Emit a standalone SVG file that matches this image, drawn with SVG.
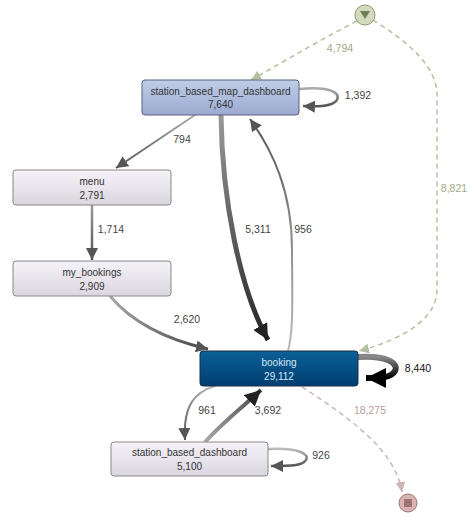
<svg xmlns="http://www.w3.org/2000/svg" width="470" height="516" viewBox="0 0 470 516">
<defs>
<style>
.nt{font-family:"Liberation Sans",Arial,sans-serif;font-size:10px;fill:#333;text-anchor:middle}
.bt{fill:#d6e6f4}
.el{font-family:"Liberation Sans",Arial,sans-serif;font-size:10.5px;fill:#444;text-anchor:middle}
.gl{fill:#9caa84}
.pl{fill:#b8a0a0}
.bl{fill:#111}
.e{fill:none;stroke-linecap:butt}
.dg{fill:none;stroke:#b4c0a0;stroke-width:1.5;stroke-dasharray:5,4}
.dp{fill:none;stroke:#cdb5b5;stroke-width:1.5;stroke-dasharray:5,4}
</style>
<linearGradient id="gBlue" x1="0" y1="0" x2="0" y2="1"><stop offset="0" stop-color="#bfcde8"/><stop offset="1" stop-color="#9babd0"/></linearGradient>
<linearGradient id="gGray" x1="0" y1="0" x2="0" y2="1"><stop offset="0" stop-color="#f5f3f8"/><stop offset="1" stop-color="#dad6df"/></linearGradient>
<linearGradient id="gDark" x1="0" y1="0" x2="0" y2="1"><stop offset="0" stop-color="#0b6198"/><stop offset="1" stop-color="#003d70"/></linearGradient>
<linearGradient id="e794" gradientUnits="userSpaceOnUse" x1="195" y1="115" x2="116" y2="168"><stop offset="0" stop-color="#aaa"/><stop offset="1" stop-color="#555"/></linearGradient>
<linearGradient id="e1714" gradientUnits="userSpaceOnUse" x1="92" y1="205" x2="92" y2="260"><stop offset="0" stop-color="#999"/><stop offset="1" stop-color="#555"/></linearGradient>
<linearGradient id="e5311" gradientUnits="userSpaceOnUse" x1="221" y1="115" x2="271" y2="345"><stop offset="0" stop-color="#999"/><stop offset="1" stop-color="#222"/></linearGradient>
<linearGradient id="e956" gradientUnits="userSpaceOnUse" x1="288" y1="351" x2="250" y2="118"><stop offset="0" stop-color="#bbb"/><stop offset="1" stop-color="#555"/></linearGradient>
<linearGradient id="e2620" gradientUnits="userSpaceOnUse" x1="110" y1="296" x2="210" y2="350"><stop offset="0" stop-color="#aaa"/><stop offset="1" stop-color="#444"/></linearGradient>
<linearGradient id="e961" gradientUnits="userSpaceOnUse" x1="215" y1="386" x2="185" y2="440"><stop offset="0" stop-color="#bbb"/><stop offset="1" stop-color="#555"/></linearGradient>
<linearGradient id="e3692" gradientUnits="userSpaceOnUse" x1="205" y1="442" x2="263" y2="388"><stop offset="0" stop-color="#aaa"/><stop offset="1" stop-color="#444"/></linearGradient>
<linearGradient id="e1392" gradientUnits="userSpaceOnUse" x1="300" y1="89" x2="300" y2="106"><stop offset="0" stop-color="#aaa"/><stop offset="1" stop-color="#555"/></linearGradient>
<linearGradient id="e8440" gradientUnits="userSpaceOnUse" x1="358" y1="357" x2="358" y2="378"><stop offset="0" stop-color="#888"/><stop offset="1" stop-color="#000"/></linearGradient>
<linearGradient id="e926" gradientUnits="userSpaceOnUse" x1="268" y1="449" x2="268" y2="466"><stop offset="0" stop-color="#bbb"/><stop offset="1" stop-color="#555"/></linearGradient>
<marker id="aG" markerUnits="userSpaceOnUse" markerWidth="12" markerHeight="12" refX="10" refY="5" orient="auto" viewBox="0 0 10 10"><path d="M0,0 L10,5 L0,10 z" fill="#555"/></marker>
<marker id="aK" markerUnits="userSpaceOnUse" markerWidth="16" markerHeight="16" refX="10" refY="5" orient="auto" viewBox="0 0 10 10"><path d="M0,0 L10,5 L0,10 z" fill="#222"/></marker>
<marker id="aB" markerUnits="userSpaceOnUse" markerWidth="20" markerHeight="20" refX="10" refY="5" orient="auto" viewBox="0 0 10 10"><path d="M0,0 L10,5 L0,10 z" fill="#000"/></marker>
<marker id="aGr" markerUnits="userSpaceOnUse" markerWidth="10" markerHeight="10" refX="10" refY="5" orient="auto" viewBox="0 0 10 10"><path d="M0,0 L10,5 L0,10 z" fill="#b4c0a0"/></marker>
<marker id="aP" markerUnits="userSpaceOnUse" markerWidth="10" markerHeight="10" refX="10" refY="5" orient="auto" viewBox="0 0 10 10"><path d="M0,0 L10,5 L0,10 z" fill="#cdb5b5"/></marker>
</defs>
<rect width="470" height="516" fill="#fff"/>
<g id="connectors">
<path class="dg" d="M357,21 C320,40 290,58 251,80" marker-end="url(#aGr)"/>
<text class="el gl" x="340" y="52">4,794</text>
<path class="dg" d="M373,20 C405,40 437,65 437,95 L437,290 C437,320 400,340 359,351" marker-end="url(#aGr)"/>
<text class="el gl" x="454" y="192">8,821</text>
<path class="e" stroke="url(#e794)" stroke-width="2" d="M195,115 L116,168" marker-end="url(#aG)"/>
<text class="el" x="182" y="143">794</text>
<path class="e" stroke="url(#e1714)" stroke-width="2.5" d="M92,205 L92,260" marker-end="url(#aG)"/>
<text class="el" x="111" y="233">1,714</text>
<path class="e" stroke="url(#e5311)" stroke-width="5" d="M221,115 C222,200 240,290 268,340" marker-end="url(#aK)"/>
<text class="el" x="258" y="233">5,311</text>
<path class="e" stroke="url(#e956)" stroke-width="2" d="M288,351 C294,330 292,290 292,250 C292,190 272,150 250,119" marker-end="url(#aG)"/>
<text class="el" x="303" y="233">956</text>
<path class="e" stroke="url(#e2620)" stroke-width="3" d="M110,296 C130,320 160,338 208,349" marker-end="url(#aG)"/>
<text class="el" x="187" y="323">2,620</text>
<path class="e" stroke="url(#e1392)" stroke-width="2.5" d="M299,89 C328,86 341,92 337,100 C333,106 320,107 303,106" marker-end="url(#aG)"/>
<text class="el" x="358" y="99">1,392</text>
<path class="e" stroke="url(#e8440)" stroke-width="6" d="M358,357 C388,355 399,364 395,371 C391,378 380,378 366,378" marker-end="url(#aB)"/>
<text class="el bl" x="418" y="372">8,440</text>
<path class="e" stroke="url(#e961)" stroke-width="2" d="M215,386 C195,392 183,405 185,440" marker-end="url(#aG)"/>
<text class="el" x="207" y="414">961</text>
<path class="e" stroke="url(#e3692)" stroke-width="4" d="M205,442 C225,420 245,405 261,390" marker-end="url(#aK)"/>
<text class="el" x="268" y="414">3,692</text>
<path class="e" stroke="url(#e926)" stroke-width="2.5" d="M268,449 C298,447 310,454 306,460 C302,466 290,466 271,466" marker-end="url(#aG)"/>
<text class="el" x="321" y="459">926</text>
<path class="dp" d="M302,387 C350,418 395,450 402,492" marker-end="url(#aP)"/>
<text class="el pl" x="370" y="414">18,275</text>
</g>
<g id="start">
<circle cx="365" cy="15" r="10" fill="#d3dabd" stroke="#8d9a74" stroke-width="1"/>
<path d="M360,11 L370,11 L365,19 z" fill="#6f7d58"/>
</g>
<g id="end">
<circle cx="408" cy="503" r="9" fill="#d9b4b2" stroke="#9c7878" stroke-width="1"/>
<rect x="404" y="499" width="8" height="8" fill="#9d7472"/>
</g>
<g id="station_based_map_dashboard">
<rect x="142" y="80" width="157" height="35" rx="3" fill="url(#gBlue)" stroke="#56617c"/>
<text class="nt" x="220.5" y="95">station_based_map_dashboard</text>
<text class="nt" x="220.5" y="108">7,640</text>
</g>
<g id="menu">
<rect x="13" y="170" width="158" height="35" rx="3" fill="url(#gGray)" stroke="#888"/>
<text class="nt" x="92" y="185">menu</text>
<text class="nt" x="92" y="199">2,791</text>
</g>
<g id="my_bookings">
<rect x="13" y="261" width="158" height="35" rx="3" fill="url(#gGray)" stroke="#888"/>
<text class="nt" x="92" y="276">my_bookings</text>
<text class="nt" x="92" y="290">2,909</text>
</g>
<g id="booking">
<rect x="200" y="351" width="158" height="35" rx="3" fill="url(#gDark)" stroke="#1d2d44"/>
<text class="nt bt" x="279" y="366">booking</text>
<text class="nt bt" x="279" y="380">29,112</text>
</g>
<g id="station_based_dashboard">
<rect x="111" y="442" width="157" height="34" rx="3" fill="url(#gGray)" stroke="#888"/>
<text class="nt" x="189.5" y="456">station_based_dashboard</text>
<text class="nt" x="189.5" y="470">5,100</text>
</g>
</svg>
